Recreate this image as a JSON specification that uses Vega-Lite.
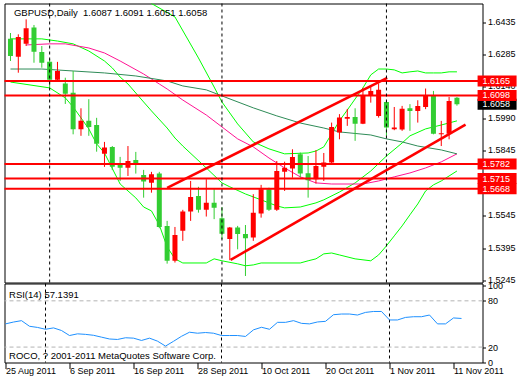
{
"$schema": "https://vega.github.io/schema/vega-lite/v6.json",
"background": "white",
"padding": {"left": 2.5, "top": 2.5, "right": 0, "bottom": 0},
"spacing": 1,
"bounds": "flush",
"config": {
  "view": {"stroke": "black", "strokeWidth": 1},
  "font": "Liberation Sans",
  "axis": {"labelColor": "black", "tickColor": "black", "labelFont": "Liberation Sans", "labelFontSize": 9, "domain": false, "grid": false, "labelOverlap": false, "title": null},
  "axisY": {"orient": "right", "tickSize": 3, "labelPadding": 2, "labelAlign": "left", "labelBaseline": "middle"},
  "axisX": {"labelAlign": "left", "labelBaseline": "top", "tickSize": 6, "labelPadding": -2, "labelDx": 1, "labelFlush": false}
},
"datasets": {
  "candles": [
    {"i":0,"o":1.6360,"h":1.6386,"l":1.6257,"c":1.6280},
    {"i":1,"o":1.6277,"h":1.6380,"l":1.6203,"c":1.6368},
    {"i":2,"o":1.6337,"h":1.6449,"l":1.6326,"c":1.6408},
    {"i":3,"o":1.6411,"h":1.6423,"l":1.6249,"c":1.6300},
    {"i":4,"o":1.6299,"h":1.6326,"l":1.6226,"c":1.6249},
    {"i":5,"o":1.6253,"h":1.6266,"l":1.6134,"c":1.6170},
    {"i":6,"o":1.6170,"h":1.6253,"l":1.6165,"c":1.6211},
    {"i":7,"o":1.6153,"h":1.6180,"l":1.6059,"c":1.6106},
    {"i":8,"o":1.6111,"h":1.6211,"l":1.5919,"c":1.5942},
    {"i":9,"o":1.5942,"h":1.6039,"l":1.5912,"c":1.5981},
    {"i":10,"o":1.5981,"h":1.6081,"l":1.5912,"c":1.5953},
    {"i":11,"o":1.5962,"h":1.5995,"l":1.5839,"c":1.5876},
    {"i":12,"o":1.5830,"h":1.5884,"l":1.5769,"c":1.5858},
    {"i":13,"o":1.5861,"h":1.5865,"l":1.5754,"c":1.5770},
    {"i":14,"o":1.5781,"h":1.5815,"l":1.5704,"c":1.5765},
    {"i":15,"o":1.5765,"h":1.5865,"l":1.5727,"c":1.5796},
    {"i":16,"o":1.5801,"h":1.5838,"l":1.5738,"c":1.5787},
    {"i":17,"o":1.5732,"h":1.5755,"l":1.5627,"c":1.5701},
    {"i":18,"o":1.5696,"h":1.5746,"l":1.5650,"c":1.5735},
    {"i":19,"o":1.5738,"h":1.5746,"l":1.5486,"c":1.5492},
    {"i":20,"o":1.5497,"h":1.5520,"l":1.5323,"c":1.5336},
    {"i":21,"o":1.5336,"h":1.5492,"l":1.5328,"c":1.5455},
    {"i":22,"o":1.5474,"h":1.5571,"l":1.5428,"c":1.5563},
    {"i":23,"o":1.5563,"h":1.5704,"l":1.5520,"c":1.5630},
    {"i":24,"o":1.5635,"h":1.5677,"l":1.5558,"c":1.5571},
    {"i":25,"o":1.5571,"h":1.5712,"l":1.5540,"c":1.5604},
    {"i":26,"o":1.5604,"h":1.5666,"l":1.5528,"c":1.5581},
    {"i":27,"o":1.5532,"h":1.5584,"l":1.5436,"c":1.5461},
    {"i":28,"o":1.5436,"h":1.5492,"l":1.5339,"c":1.5489},
    {"i":29,"o":1.5489,"h":1.5497,"l":1.5389,"c":1.5459},
    {"i":30,"o":1.5459,"h":1.5501,"l":1.5266,"c":1.5440},
    {"i":31,"o":1.5443,"h":1.5643,"l":1.5428,"c":1.5558},
    {"i":32,"o":1.5554,"h":1.5686,"l":1.5535,"c":1.5666},
    {"i":33,"o":1.5666,"h":1.5673,"l":1.5566,"c":1.5571},
    {"i":34,"o":1.5571,"h":1.5796,"l":1.5566,"c":1.5750},
    {"i":35,"o":1.5747,"h":1.5793,"l":1.5658,"c":1.5765},
    {"i":36,"o":1.5761,"h":1.5850,"l":1.5719,"c":1.5815},
    {"i":37,"o":1.5827,"h":1.5835,"l":1.5719,"c":1.5738},
    {"i":38,"o":1.5740,"h":1.5819,"l":1.5627,"c":1.5707},
    {"i":39,"o":1.5712,"h":1.5846,"l":1.5692,"c":1.5773},
    {"i":40,"o":1.5769,"h":1.5833,"l":1.5704,"c":1.5789},
    {"i":41,"o":1.5789,"h":1.5973,"l":1.5778,"c":1.5953},
    {"i":42,"o":1.5927,"h":1.6012,"l":1.5896,"c":1.5996},
    {"i":43,"o":1.5991,"h":1.6036,"l":1.5958,"c":1.5999},
    {"i":44,"o":1.5999,"h":1.6039,"l":1.5889,"c":1.5968},
    {"i":45,"o":1.5968,"h":1.6134,"l":1.5966,"c":1.6096},
    {"i":46,"o":1.6099,"h":1.6142,"l":1.6065,"c":1.6119},
    {"i":47,"o":1.6004,"h":1.6154,"l":1.5996,"c":1.6124},
    {"i":48,"o":1.6068,"h":1.6073,"l":1.5912,"c":1.5950},
    {"i":49,"o":1.5942,"h":1.6045,"l":1.5938,"c":1.5950},
    {"i":50,"o":1.5941,"h":1.6050,"l":1.5935,"c":1.6037},
    {"i":51,"o":1.6039,"h":1.6058,"l":1.5935,"c":1.6027},
    {"i":52,"o":1.6027,"h":1.6076,"l":1.5973,"c":1.6050},
    {"i":53,"o":1.6045,"h":1.6130,"l":1.6035,"c":1.6096},
    {"i":54,"o":1.6099,"h":1.6119,"l":1.5919,"c":1.5922},
    {"i":55,"o":1.5919,"h":1.5981,"l":1.5865,"c":1.5924},
    {"i":56,"o":1.5922,"h":1.6091,"l":1.5896,"c":1.6073},
    {"i":57,"o":1.6087,"h":1.6091,"l":1.6051,"c":1.6058}
  ],
  "lines": [
    {"s":"up","i":17,"v":1.6560},{"s":"up","i":18,"v":1.6522},{"s":"up","i":21,"v":1.6460},{"s":"up","i":24,"v":1.6271},{"s":"up","i":26,"v":1.6137},{"s":"up","i":27,"v":1.6068},{"s":"up","i":29,"v":1.5967},{"s":"up","i":31,"v":1.5884},{"s":"up","i":33,"v":1.5852},{"s":"up","i":35,"v":1.5829},{"s":"up","i":38,"v":1.5833},{"s":"up","i":39,"v":1.5842},{"s":"up","i":40,"v":1.5861},{"s":"up","i":41,"v":1.5921},{"s":"up","i":42,"v":1.5981},{"s":"up","i":43,"v":1.6031},{"s":"up","i":44,"v":1.6082},{"s":"up","i":45,"v":1.6133},{"s":"up","i":46,"v":1.6193},{"s":"up","i":47,"v":1.6220},{"s":"up","i":48,"v":1.6220},{"s":"up","i":49,"v":1.6216},{"s":"up","i":50,"v":1.6202},{"s":"up","i":51,"v":1.6207},{"s":"up","i":52,"v":1.6211},{"s":"up","i":53,"v":1.6202},{"s":"up","i":54,"v":1.6202},{"s":"up","i":55,"v":1.6202},{"s":"up","i":56,"v":1.6207},{"s":"up","i":57,"v":1.6207},
    {"s":"mid","i":0,"v":1.6359},{"s":"mid","i":4,"v":1.6359},{"s":"mid","i":6,"v":1.6349},{"s":"mid","i":8,"v":1.6336},{"s":"mid","i":10,"v":1.6303},{"s":"mid","i":12,"v":1.6257},{"s":"mid","i":13,"v":1.6225},{"s":"mid","i":14,"v":1.6183},{"s":"mid","i":15,"v":1.6151},{"s":"mid","i":17,"v":1.6068},{"s":"mid","i":18,"v":1.6027},{"s":"mid","i":20,"v":1.5948},{"s":"mid","i":21,"v":1.5902},{"s":"mid","i":22,"v":1.5865},{"s":"mid","i":25,"v":1.5764},{"s":"mid","i":27,"v":1.5695},{"s":"mid","i":28,"v":1.5677},{"s":"mid","i":30,"v":1.5644},{"s":"mid","i":32,"v":1.5617},{"s":"mid","i":34,"v":1.5589},{"s":"mid","i":35,"v":1.5580},{"s":"mid","i":37,"v":1.5584},{"s":"mid","i":39,"v":1.5603},{"s":"mid","i":40,"v":1.5617},{"s":"mid","i":42,"v":1.5653},{"s":"mid","i":44,"v":1.5695},{"s":"mid","i":46,"v":1.5750},{"s":"mid","i":48,"v":1.5819},{"s":"mid","i":50,"v":1.5879},{"s":"mid","i":51,"v":1.5912},{"s":"mid","i":53,"v":1.5944},{"s":"mid","i":55,"v":1.5962},{"s":"mid","i":57,"v":1.5981},
    {"s":"low","i":0,"v":1.6160},{"s":"low","i":5,"v":1.6133},{"s":"low","i":7,"v":1.6087},{"s":"low","i":8,"v":1.6045},{"s":"low","i":9,"v":1.5995},{"s":"low","i":10,"v":1.5944},{"s":"low","i":11,"v":1.5875},{"s":"low","i":12,"v":1.5833},{"s":"low","i":14,"v":1.5690},{"s":"low","i":16,"v":1.5626},{"s":"low","i":17,"v":1.5584},{"s":"low","i":18,"v":1.5566},{"s":"low","i":19,"v":1.5501},{"s":"low","i":20,"v":1.5400},{"s":"low","i":21,"v":1.5345},{"s":"low","i":22,"v":1.5326},{"s":"low","i":25,"v":1.5326},{"s":"low","i":26,"v":1.5345},{"s":"low","i":27,"v":1.5336},{"s":"low","i":29,"v":1.5322},{"s":"low","i":30,"v":1.5313},{"s":"low","i":31,"v":1.5317},{"s":"low","i":32,"v":1.5326},{"s":"low","i":37,"v":1.5326},{"s":"low","i":38,"v":1.5336},{"s":"low","i":39,"v":1.5345},{"s":"low","i":40,"v":1.5368},{"s":"low","i":41,"v":1.5372},{"s":"low","i":42,"v":1.5363},{"s":"low","i":44,"v":1.5345},{"s":"low","i":46,"v":1.5336},{"s":"low","i":47,"v":1.5363},{"s":"low","i":48,"v":1.5405},{"s":"low","i":49,"v":1.5451},{"s":"low","i":50,"v":1.5497},{"s":"low","i":51,"v":1.5548},{"s":"low","i":52,"v":1.5598},{"s":"low","i":53,"v":1.5658},{"s":"low","i":54,"v":1.5686},{"s":"low","i":55,"v":1.5704},{"s":"low","i":56,"v":1.5727},{"s":"low","i":57,"v":1.5750},
    {"s":"pink","i":2,"v":1.6331},{"s":"pink","i":5,"v":1.6336},{"s":"pink","i":7,"v":1.6336},{"s":"pink","i":10,"v":1.6317},{"s":"pink","i":12,"v":1.6294},{"s":"pink","i":14,"v":1.6257},{"s":"pink","i":17,"v":1.6197},{"s":"pink","i":19,"v":1.6151},{"s":"pink","i":20,"v":1.6128},{"s":"pink","i":22,"v":1.6077},{"s":"pink","i":25,"v":1.6008},{"s":"pink","i":27,"v":1.5953},{"s":"pink","i":29,"v":1.5898},{"s":"pink","i":31,"v":1.5861},{"s":"pink","i":33,"v":1.5810},{"s":"pink","i":35,"v":1.5764},{"s":"pink","i":37,"v":1.5723},{"s":"pink","i":39,"v":1.5695},{"s":"pink","i":41,"v":1.5690},{"s":"pink","i":45,"v":1.5690},{"s":"pink","i":47,"v":1.5704},{"s":"pink","i":49,"v":1.5723},{"s":"pink","i":51,"v":1.5741},{"s":"pink","i":53,"v":1.5764},{"s":"pink","i":55,"v":1.5792},{"s":"pink","i":57,"v":1.5829},
    {"s":"dark","i":0,"v":1.6220},{"s":"dark","i":4,"v":1.6220},{"s":"dark","i":8,"v":1.6211},{"s":"dark","i":12,"v":1.6202},{"s":"dark","i":16,"v":1.6188},{"s":"dark","i":20,"v":1.6165},{"s":"dark","i":22,"v":1.6142},{"s":"dark","i":25,"v":1.6124},{"s":"dark","i":27,"v":1.6096},{"s":"dark","i":31,"v":1.6041},{"s":"dark","i":34,"v":1.6004},{"s":"dark","i":37,"v":1.5971},{"s":"dark","i":40,"v":1.5948},{"s":"dark","i":42,"v":1.5930},{"s":"dark","i":46,"v":1.5916},{"s":"dark","i":48,"v":1.5898},{"s":"dark","i":50,"v":1.5884},{"s":"dark","i":52,"v":1.5865},{"s":"dark","i":55,"v":1.5847},{"s":"dark","i":57,"v":1.5829}
  ],
  "levels": [{"p":1.6165},{"p":1.6098},{"p":1.5782},{"p":1.5715},{"p":1.5668}],
  "trends": [{"i1":20,"p1":1.5672,"i2":48.1,"p2":1.6179},{"i1":28.1,"p1":1.5340,"i2":58.1,"p2":1.5964}],
  "seps": [{"i":5},{"i":27},{"i":48}],
  "rsi": [
    {"i":0,"r":50.1},{"i":1,"r":52.5},{"i":2,"r":54.3},{"i":3,"r":47.0},{"i":4,"r":45.5},{"i":5,"r":43.1},{"i":6,"r":44.9},{"i":7,"r":41.5},{"i":8,"r":35.0},{"i":9,"r":37.2},{"i":10,"r":36.5},{"i":11,"r":35.3},{"i":12,"r":32.9},{"i":13,"r":30.5},{"i":14,"r":29.9},{"i":15,"r":32.1},{"i":16,"r":31.6},{"i":17,"r":28.6},{"i":18,"r":31.6},{"i":19,"r":27.7},{"i":20,"r":21.3},{"i":21,"r":27.5},{"i":22,"r":34.0},{"i":23,"r":39.3},{"i":24,"r":38.0},{"i":25,"r":38.9},{"i":26,"r":38.0},{"i":27,"r":35.0},{"i":28,"r":35.0},{"i":29,"r":35.0},{"i":30,"r":33.8},{"i":31,"r":42.4},{"i":32,"r":45.7},{"i":33,"r":43.1},{"i":34,"r":52.1},{"i":35,"r":52.1},{"i":36,"r":54.3},{"i":37,"r":50.8},{"i":38,"r":50.1},{"i":39,"r":52.6},{"i":40,"r":53.4},{"i":41,"r":62.0},{"i":42,"r":62.9},{"i":43,"r":62.9},{"i":44,"r":61.6},{"i":45,"r":65.0},{"i":46,"r":66.2},{"i":47,"r":66.2},{"i":48,"r":55.2},{"i":49,"r":55.2},{"i":50,"r":58.5},{"i":51,"r":59.4},{"i":52,"r":59.4},{"i":53,"r":61.6},{"i":54,"r":50.1},{"i":55,"r":50.1},{"i":56,"r":57.8},{"i":57,"r":57.14}
  ],
  "rsilevels": [{"r":20},{"r":80}]
},
"vconcat": [
  {
    "width": 478, "height": 279,
    "layer": [
      {
        "data": {"name": "lines"},
        "mark": {"type": "line", "clip": true, "strokeWidth": 1},
        "encoding": {
          "x": {"field": "i", "type": "quantitative", "title": null, "scale": {"domain": [-0.125, 59.625], "nice": false, "zero": false}, "axis": null},
          "y": {"field": "v", "type": "quantitative", "title": null, "scale": {"domain": [1.5236, 1.6522], "nice": false, "zero": false},
                "axis": {"values": [1.5245, 1.5395, 1.5545, 1.5845, 1.5990, 1.6140, 1.6285, 1.6435], "format": ".4f", "labelOffset": -1, "labelFlush": 3}},
          "color": {"field": "s", "type": "nominal", "scale": {"domain": ["up", "mid", "low", "pink", "dark"], "range": ["#00ff00", "#00ff00", "#00ff00", "#ff1493", "#2e8b57"]}, "legend": null}
        }
      },
      {
        "data": {"name": "candles"},
        "mark": {"type": "rule", "clip": true, "strokeWidth": 1},
        "encoding": {
          "x": {"field": "i", "type": "quantitative", "title": null, "scale": {"domain": [-0.125, 59.625], "nice": false, "zero": false}, "axis": null},
          "y": {"field": "l", "type": "quantitative", "title": null, "scale": {"domain": [1.5236, 1.6522], "nice": false, "zero": false},
                "axis": {"values": [1.5245, 1.5395, 1.5545, 1.5845, 1.5990, 1.6140, 1.6285, 1.6435], "format": ".4f", "labelOffset": -1, "labelFlush": 3}},
          "y2": {"field": "h"},
          "color": {"condition": {"test": "datum.c >= datum.o", "value": "#ff0000"}, "value": "#32cd32"}
        }
      },
      {
        "data": {"name": "candles"},
        "mark": {"type": "bar", "clip": true, "width": 5},
        "encoding": {
          "x": {"field": "i", "type": "quantitative", "title": null, "scale": {"domain": [-0.125, 59.625], "nice": false, "zero": false}, "axis": null},
          "y": {"field": "o", "type": "quantitative", "title": null, "scale": {"domain": [1.5236, 1.6522], "nice": false, "zero": false},
                "axis": {"values": [1.5245, 1.5395, 1.5545, 1.5845, 1.5990, 1.6140, 1.6285, 1.6435], "format": ".4f", "labelOffset": -1, "labelFlush": 3}},
          "y2": {"field": "c"},
          "color": {"condition": {"test": "datum.c >= datum.o", "value": "#ff0000"}, "value": "#32cd32"}
        }
      },
      {
        "data": {"name": "levels"},
        "mark": {"type": "rule", "color": "#ff0000", "strokeWidth": 2},
        "encoding": {
          "y": {"field": "p", "type": "quantitative", "title": null, "scale": {"domain": [1.5236, 1.6522], "nice": false, "zero": false},
                "axis": {"values": [1.5245, 1.5395, 1.5545, 1.5845, 1.5990, 1.6140, 1.6285, 1.6435], "format": ".4f", "labelOffset": -1, "labelFlush": 3}}
        }
      },
      {
        "data": {"name": "trends"},
        "mark": {"type": "rule", "color": "#ff0000", "strokeWidth": 2.5, "clip": true},
        "encoding": {
          "x": {"field": "i1", "type": "quantitative", "title": null, "scale": {"domain": [-0.125, 59.625], "nice": false, "zero": false}, "axis": null},
          "x2": {"field": "i2"},
          "y": {"field": "p1", "type": "quantitative", "title": null, "scale": {"domain": [1.5236, 1.6522], "nice": false, "zero": false},
                "axis": {"values": [1.5245, 1.5395, 1.5545, 1.5845, 1.5990, 1.6140, 1.6285, 1.6435], "format": ".4f", "labelOffset": -1, "labelFlush": 3}},
          "y2": {"field": "p2"}
        }
      },
      {
        "data": {"name": "seps"},
        "mark": {"type": "rule", "color": "black", "strokeWidth": 1, "strokeDash": [3, 3]},
        "encoding": {
          "x": {"field": "i", "type": "quantitative", "title": null, "scale": {"domain": [-0.125, 59.625], "nice": false, "zero": false}, "axis": null}
        }
      },
      {
        "data": {"values": [{}]},
        "mark": {"type": "text", "align": "left", "baseline": "middle", "fontSize": 9.5, "color": "black", "font": "Liberation Sans"},
        "encoding": {
          "x": {"datum": 0.44, "type": "quantitative", "title": null, "scale": {"domain": [-0.125, 59.625], "nice": false, "zero": false}, "axis": null},
          "y": {"datum": 1.6478, "type": "quantitative", "title": null, "scale": {"domain": [1.5236, 1.6522], "nice": false, "zero": false},
                "axis": {"values": [1.5245, 1.5395, 1.5545, 1.5845, 1.5990, 1.6140, 1.6285, 1.6435], "format": ".4f", "labelOffset": -1, "labelFlush": 3}},
          "text": {"value": "GBPUSD,Daily\u00a0\u00a01.6087 1.6091 1.6051 1.6058"}
        }
      },
      {
        "data": {"values": [{}]},
        "mark": {"type": "tick", "orient": "horizontal", "thickness": 11, "size": 39, "color": "black", "opacity": 1},
        "encoding": {
          "x": {"datum": 62.125, "type": "quantitative", "title": null, "scale": {"domain": [-0.125, 59.625], "nice": false, "zero": false}, "axis": null},
          "y": {"datum": 1.6058, "type": "quantitative", "title": null, "scale": {"domain": [1.5236, 1.6522], "nice": false, "zero": false},
                "axis": {"values": [1.5245, 1.5395, 1.5545, 1.5845, 1.5990, 1.6140, 1.6285, 1.6435], "format": ".4f", "labelOffset": -1, "labelFlush": 3}}
        }
      },
      {
        "data": {"values": [{}]},
        "mark": {"type": "text", "align": "left", "baseline": "middle", "fontSize": 9, "color": "white", "font": "Liberation Sans"},
        "encoding": {
          "x": {"datum": 60.25, "type": "quantitative", "title": null, "scale": {"domain": [-0.125, 59.625], "nice": false, "zero": false}, "axis": null},
          "y": {"datum": 1.6058, "type": "quantitative", "title": null, "scale": {"domain": [1.5236, 1.6522], "nice": false, "zero": false},
                "axis": {"values": [1.5245, 1.5395, 1.5545, 1.5845, 1.5990, 1.6140, 1.6285, 1.6435], "format": ".4f", "labelOffset": -1, "labelFlush": 3}},
          "text": {"value": "1.6058"}
        }
      },
      {
        "data": {"name": "levels"},
        "mark": {"type": "tick", "orient": "horizontal", "thickness": 11, "size": 39, "color": "#ff0000", "opacity": 1},
        "encoding": {
          "x": {"datum": 62.125, "type": "quantitative", "title": null, "scale": {"domain": [-0.125, 59.625], "nice": false, "zero": false}, "axis": null},
          "y": {"field": "p", "type": "quantitative", "title": null, "scale": {"domain": [1.5236, 1.6522], "nice": false, "zero": false},
                "axis": {"values": [1.5245, 1.5395, 1.5545, 1.5845, 1.5990, 1.6140, 1.6285, 1.6435], "format": ".4f", "labelOffset": -1, "labelFlush": 3}}
        }
      },
      {
        "data": {"name": "levels"},
        "mark": {"type": "text", "align": "left", "baseline": "middle", "fontSize": 9, "color": "white", "font": "Liberation Sans"},
        "encoding": {
          "x": {"datum": 60.25, "type": "quantitative", "title": null, "scale": {"domain": [-0.125, 59.625], "nice": false, "zero": false}, "axis": null},
          "y": {"field": "p", "type": "quantitative", "title": null, "scale": {"domain": [1.5236, 1.6522], "nice": false, "zero": false},
                "axis": {"values": [1.5245, 1.5395, 1.5545, 1.5845, 1.5990, 1.6140, 1.6285, 1.6435], "format": ".4f", "labelOffset": -1, "labelFlush": 3}},
          "text": {"field": "p", "type": "quantitative", "format": ".4f"}
        }
      }
    ]
  },
  {
    "width": 478, "height": 79,
    "layer": [
      {
        "data": {"name": "rsilevels"},
        "mark": {"type": "rule", "color": "#b4b4b4", "strokeWidth": 1, "strokeDash": [4, 3]},
        "encoding": {
          "y": {"field": "r", "type": "quantitative", "title": null, "scale": {"domain": [0, 102.5], "nice": false, "zero": false},
                "axis": {"values": [0, 20, 80, 100], "labelFlush": true, "labelFlushOffset": 3}}
        }
      },
      {
        "data": {"name": "seps"},
        "mark": {"type": "rule", "color": "black", "strokeWidth": 1, "strokeDash": [3, 3]},
        "encoding": {
          "x": {"field": "i", "type": "quantitative", "title": null, "scale": {"domain": [-0.125, 59.625], "nice": false, "zero": false},
                "axis": {"values": [0, 8, 16, 24, 32, 40, 48, 56], "labelExpr": "['25 Aug 2011','6 Sep 2011','16 Sep 2011','28 Sep 2011','10 Oct 2011','20 Oct 2011','1 Nov 2011','11 Nov 2011'][round(datum.value/8)]"}}
        }
      },
      {
        "data": {"name": "rsi"},
        "mark": {"type": "line", "color": "#1e90ff", "strokeWidth": 1, "clip": true},
        "encoding": {
          "x": {"field": "i", "type": "quantitative", "title": null, "scale": {"domain": [-0.125, 59.625], "nice": false, "zero": false},
                "axis": {"values": [0, 8, 16, 24, 32, 40, 48, 56], "labelExpr": "['25 Aug 2011','6 Sep 2011','16 Sep 2011','28 Sep 2011','10 Oct 2011','20 Oct 2011','1 Nov 2011','11 Nov 2011'][round(datum.value/8)]"}},
          "y": {"field": "r", "type": "quantitative", "title": null, "scale": {"domain": [0, 102.5], "nice": false, "zero": false},
                "axis": {"values": [0, 20, 80, 100], "labelFlush": true, "labelFlushOffset": 3}}
        }
      },
      {
        "data": {"values": [{}]},
        "mark": {"type": "text", "align": "left", "baseline": "middle", "fontSize": 9.5, "color": "black", "font": "Liberation Sans"},
        "encoding": {
          "x": {"datum": 0.44, "type": "quantitative", "title": null, "scale": {"domain": [-0.125, 59.625], "nice": false, "zero": false},
                "axis": {"values": [0, 8, 16, 24, 32, 40, 48, 56], "labelExpr": "['25 Aug 2011','6 Sep 2011','16 Sep 2011','28 Sep 2011','10 Oct 2011','20 Oct 2011','1 Nov 2011','11 Nov 2011'][round(datum.value/8)]"}},
          "y": {"datum": 87.5, "type": "quantitative", "title": null, "scale": {"domain": [0, 102.5], "nice": false, "zero": false},
                "axis": {"values": [0, 20, 80, 100], "labelFlush": true, "labelFlushOffset": 3}},
          "text": {"value": "RSI(14) 57.1391"}
        }
      },
      {
        "data": {"values": [{}]},
        "mark": {"type": "text", "align": "left", "baseline": "middle", "fontSize": 9.5, "color": "black", "font": "Liberation Sans"},
        "encoding": {
          "x": {"datum": 0.44, "type": "quantitative", "title": null, "scale": {"domain": [-0.125, 59.625], "nice": false, "zero": false},
                "axis": {"values": [0, 8, 16, 24, 32, 40, 48, 56], "labelExpr": "['25 Aug 2011','6 Sep 2011','16 Sep 2011','28 Sep 2011','10 Oct 2011','20 Oct 2011','1 Nov 2011','11 Nov 2011'][round(datum.value/8)]"}},
          "y": {"datum": 8.4, "type": "quantitative", "title": null, "scale": {"domain": [0, 102.5], "nice": false, "zero": false},
                "axis": {"values": [0, 20, 80, 100], "labelFlush": true, "labelFlushOffset": 3}},
          "text": {"value": "ROCO, ? 2001-2011 MetaQuotes Software Corp."}
        }
      }
    ]
  }
]
}
